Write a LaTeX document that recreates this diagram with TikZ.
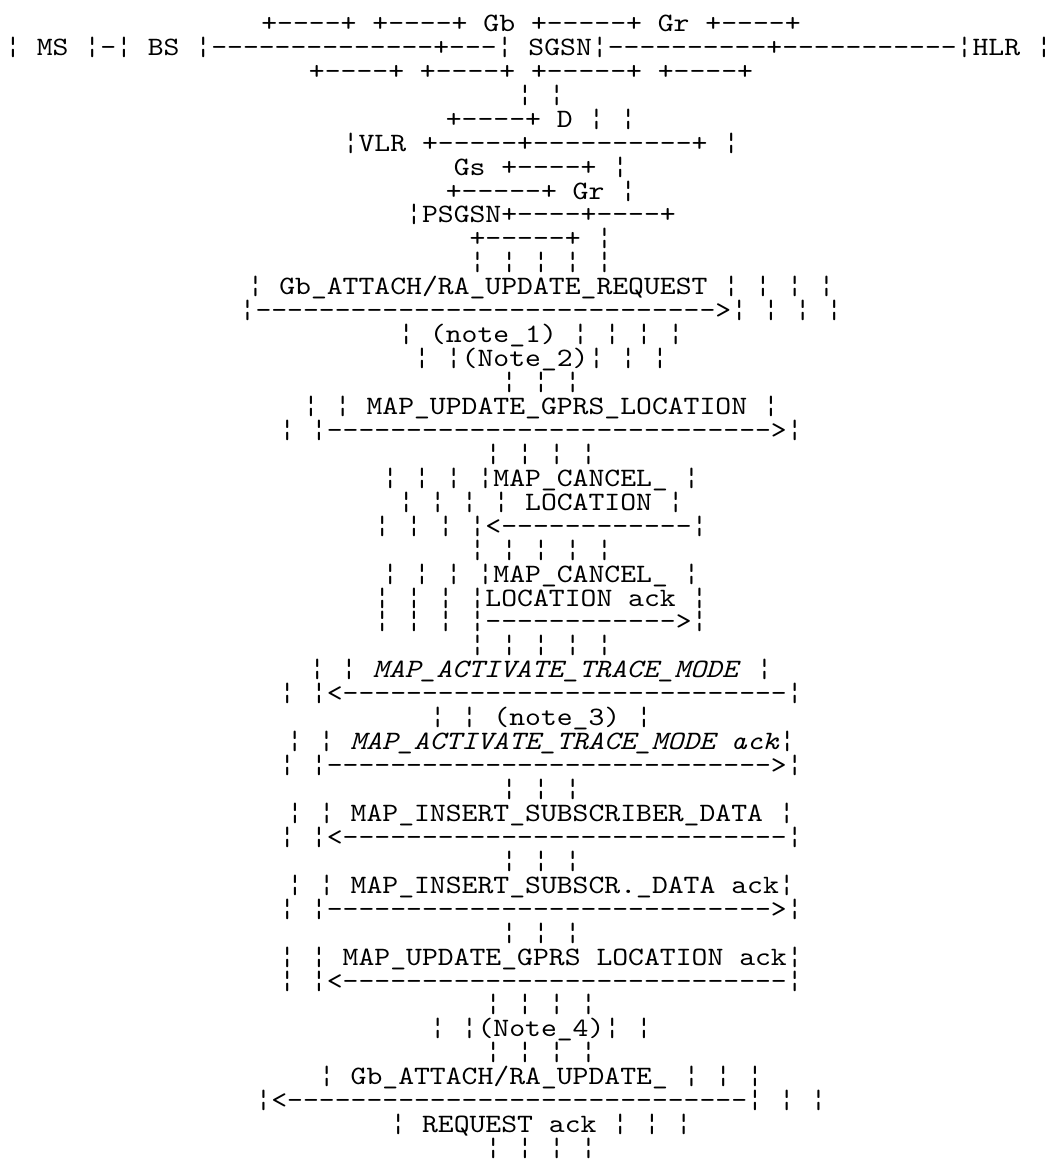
\documentclass[tikz,border=0pt]{standalone}
\usepackage{fontspec}
\setmonofont{lmmono10-regular.otf}[
  ItalicFont=lmmono10-italic.otf,
  FakeStretch=1.14]
\usepackage{tikz}
\usetikzlibrary{positioning}
\newcommand{\dashrun}[1]{\foreach \k in {1,...,#1}{-}}

\begin{document}
\begin{tikzpicture}[x=1pt, y=-23.94pt,
  asciirow/.style={font=\ttfamily\fontsize{26.5}{26.5}\selectfont,
    inner sep=0pt, text height=14pt, text depth=3pt,
    anchor=base, yshift=-7.5pt}]
  \useasboundingbox (0pt,0pt) rectangle (1056pt,-1160pt);
  % network boxes
  \node[asciirow] (r01) at (531,1) {+----+ +----+ Gb +-----+ Gr +----+};
  \node[asciirow] (r02) at (528.5,2) {¦ MS ¦-¦ BS ¦\dashrun{14}+---¦ SGSN¦\dashrun{10}+\dashrun{11}¦HLR ¦};
  \node[asciirow] (r03) at (531,3) {+----+ +----+ +-----+ +----+};
  \node[asciirow] (r04) at (541,4) {¦ ¦};
  \node[asciirow] (r05) at (541,5) {+----+ D ¦ ¦};
  \node[asciirow] (r06) at (541,6) {¦VLR +-----+----------+ ¦};
  \node[asciirow] (r07) at (541,7) {Gs +----+ ¦};
  \node[asciirow] (r08) at (541,8) {+-----+ Gr ¦};
  \node[asciirow] (r09) at (541,9) {¦PSGSN+----+----+};
  \node[asciirow] (r10) at (541,10) {+-----+ ¦};
  \node[asciirow] (r11) at (541,11) {¦ ¦ ¦ ¦ ¦};
  % attach request
  \node[asciirow] (r12) at (541,12) {¦ Gb\_ATTACH/RA\_UPDATE\_REQUEST ¦ ¦ ¦ ¦};
  \node[asciirow] (r13) at (541,13) {¦\dashrun{29}>¦ ¦ ¦ ¦};
  \node[asciirow] (r14) at (541,14) {¦ (note\_1) ¦ ¦ ¦ ¦};
  \node[asciirow] (r15) at (541,15) {¦ ¦(Note\_2)¦ ¦ ¦};
  \node[asciirow] (r16) at (541,16) {¦ ¦ ¦};
  % update location
  \node[asciirow] (r17) at (541,17) {¦ ¦ MAP\_UPDATE\_GPRS\_LOCATION ¦};
  \node[asciirow] (r18) at (541,18) {¦ ¦\dashrun{28}>¦};
  \node[asciirow] (r19) at (541,19) {¦ ¦ ¦ ¦};
  % cancel location
  \node[asciirow] (r20) at (541,20) {¦ ¦ ¦ ¦MAP\_CANCEL\_{} ¦};
  \node[asciirow] (r21) at (541,21) {¦ ¦ ¦ ¦ LOCATION ¦};
  \node[asciirow] (r22) at (541,22) {¦ ¦ ¦ ¦<\dashrun{12}¦};
  \node[asciirow] (r23) at (541,23) {¦ ¦ ¦ ¦ ¦};
  \node[asciirow] (r24) at (541,24) {¦ ¦ ¦ ¦MAP\_CANCEL\_{} ¦};
  \node[asciirow] (r25) at (541,25) {¦ ¦ ¦ ¦LOCATION ack ¦};
  \node[asciirow] (r26) at (541,26) {¦ ¦ ¦ ¦\dashrun{12}>¦};
  \node[asciirow] (r27) at (541,27) {¦ ¦ ¦ ¦ ¦};
  % trace mode
  \node[asciirow] (r28) at (541,28) {¦ ¦ \textit{MAP\_ACTIVATE\_TRACE\_MODE} ¦};
  \node[asciirow] (r29) at (541,29) {¦ ¦<\dashrun{28}¦};
  \node[asciirow] (r30) at (541,30) {¦ ¦ (note\_3) ¦};
  \node[asciirow] (r31) at (541,31) {¦ ¦ \textit{MAP\_ACTIVATE\_TRACE\_MODE ack}¦};
  \node[asciirow] (r32) at (541,32) {¦ ¦\dashrun{28}>¦};
  \node[asciirow] (r33) at (541,33) {¦ ¦ ¦};
  % subscriber data
  \node[asciirow] (r34) at (541,34) {¦ ¦ MAP\_INSERT\_SUBSCRIBER\_DATA ¦};
  \node[asciirow] (r35) at (541,35) {¦ ¦<\dashrun{28}¦};
  \node[asciirow] (r36) at (541,36) {¦ ¦ ¦};
  \node[asciirow] (r37) at (541,37) {¦ ¦ MAP\_INSERT\_SUBSCR.\_DATA ack¦};
  \node[asciirow] (r38) at (541,38) {¦ ¦\dashrun{28}>¦};
  \node[asciirow] (r39) at (541,39) {¦ ¦ ¦};
  \node[asciirow] (r40) at (541,40) {¦ ¦ MAP\_UPDATE\_GPRS LOCATION ack¦};
  \node[asciirow] (r41) at (541,41) {¦ ¦<\dashrun{28}¦};
  \node[asciirow] (r42) at (541,42) {¦ ¦ ¦ ¦};
  % attach accept
  \node[asciirow] (r43) at (541,43) {¦ ¦(Note\_4)¦ ¦};
  \node[asciirow] (r44) at (541,44) {¦ ¦ ¦ ¦};
  \node[asciirow] (r45) at (541,45) {¦ Gb\_ATTACH/RA\_UPDATE\_{} ¦ ¦ ¦};
  \node[asciirow] (r46) at (541,46) {¦<\dashrun{29}¦ ¦ ¦};
  \node[asciirow] (r47) at (541,47) {¦ REQUEST ack ¦ ¦ ¦};
  \node[asciirow] (r48) at (541,48) {¦ ¦ ¦ ¦};
\end{tikzpicture}
\end{document}
